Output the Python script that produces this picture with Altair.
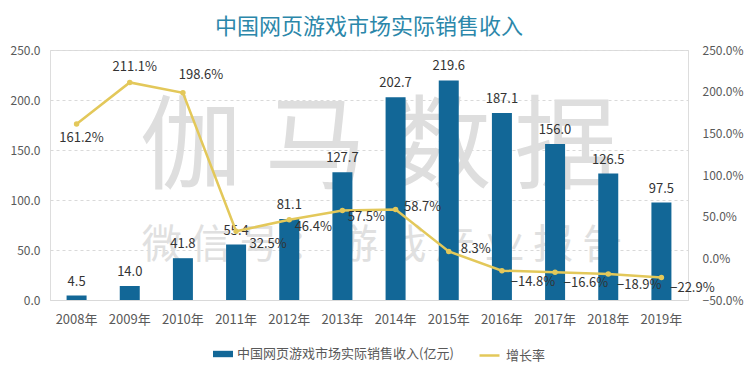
import altair as alt
import pandas as pd

years = ["2008年", "2009年", "2010年", "2011年", "2012年", "2013年",
         "2014年", "2015年", "2016年", "2017年", "2018年", "2019年"]
revenue = [4.5, 14.0, 41.8, 55.4, 81.1, 127.7, 202.7, 219.6, 187.1, 156.0, 126.5, 97.5]
growth = [161.2, 211.1, 198.6, 32.5, 46.4, 57.5, 58.7, 8.3, -14.8, -16.6, -18.9, -22.9]

bar_name = "中国网页游戏市场实际销售收入(亿元)"
line_name = "增长率"
title_text = "中国网页游戏市场实际销售收入"
wm_big = "伽 马 数 据"
wm_small = "微 信 号 ： 游 戏 产 业 报 告"

df = pd.DataFrame({"year": years, "revenue": revenue, "growth": growth,
                   "s1": bar_name, "s2": line_name})

FONT = "Noto Sans CJK SC"
BAR = "#126797"
LINE = "#e3c85a"
TXT = "#333333"
AX = "#595959"

x = alt.X("year:N", sort=years,
          scale=alt.Scale(paddingInner=0, paddingOuter=0),
          axis=alt.Axis(title=None, labelAngle=0, ticks=False, tickSize=0,
                        labelPadding=13, labelFontSize=13, labelColor=AX,
                        labelFont=FONT, domainColor="#d9d9d9", grid=False))

yl = alt.Y("revenue:Q", scale=alt.Scale(domain=[0, 250]),
           axis=alt.Axis(title=None, values=[0, 50, 100, 150, 200, 250],
                         format=".1f", ticks=False, tickSize=0, domain=False,
                         labelPadding=10, labelFontSize=12, labelColor=AX,
                         labelFont=FONT, grid=True, gridColor="#d9d9d9",
                         gridDash=[3, 3], orient="left"))

yr = alt.Y("growth:Q", scale=alt.Scale(domain=[-50, 250]),
           axis=alt.Axis(title=None, values=[-50, 0, 50, 100, 150, 200, 250],
                         labelExpr="format(datum.value, '.1f') + '%'",
                         ticks=False, tickSize=0, domain=False,
                         labelPadding=14, labelFontSize=12, labelColor=AX,
                         labelFont=FONT, grid=False, orient="right"))

base = alt.Chart(df)

wm_df = pd.DataFrame({"big": [wm_big], "small": [wm_small]})
wm1 = alt.Chart(wm_df).mark_text(font=FONT, fontSize=102, color="#dedede",
                                  align="center", baseline="middle").encode(
    x=alt.value(328), y=alt.value(100), text="big:N")
wm2 = alt.Chart(wm_df).mark_text(font=FONT, fontSize=40, color="#e0e0e0",
                                  align="center", baseline="middle").encode(
    x=alt.value(332), y=alt.value(196), text="small:N")

bars = base.mark_bar(size=20).encode(
    x=x, y=yl,
    color=alt.Color("s1:N", scale=alt.Scale(range=[BAR]),
                    legend=alt.Legend(title=None, orient="none", legendX=163,
                                      legendY=294, symbolType="M-1,-0.32H1V0.32H-1Z",
                                      symbolSize=400, symbolStrokeWidth=0,
                                      labelFont=FONT, labelFontSize=13,
                                      labelColor=AX, labelOffset=4, padding=0,
                                      labelLimit=0)))
bar_lab = base.mark_text(font=FONT, fontSize=13, color=TXT, baseline="middle",
                         dy=-14).encode(x=x, y=yl, text=alt.Text("revenue:Q", format=".1f"))

left = alt.layer(bars, bar_lab)

line = base.mark_line(strokeWidth=2.5, interpolate="linear").encode(
    x=x, y=yr,
    stroke=alt.Stroke("s2:N", scale=alt.Scale(range=[LINE]),
                      legend=alt.Legend(title=None, orient="none", legendX=428,
                                        legendY=294, symbolType="stroke",
                                        symbolSize=400, symbolStrokeWidth=2.5,
                                        labelFont=FONT, labelFontSize=13,
                                        labelColor=AX, labelOffset=5, padding=0,
                                        labelLimit=0)))
pts = base.mark_point(filled=True, size=30, color=LINE, opacity=1).encode(x=x, y=yr)


def glab(sel, dx, dy):
    return base.transform_filter(
        alt.FieldOneOfPredicate(field="year", oneOf=sel)
    ).transform_calculate(
        lab="format(datum.growth, '.1f') + '%'"
    ).mark_text(font=FONT, fontSize=13, color=TXT, baseline="middle",
                dx=dx, dy=dy).encode(x=x, y=yr, text="lab:N")


labs = [
    glab(["2008年"], 5, 14),
    glab(["2009年"], 5, -15),
    glab(["2010年"], 18, -18),
    glab(["2011年"], 32, 13),
    glab(["2012年", "2013年"], 24, 7),
    glab(["2014年", "2015年"], 27, -2),
    glab(["2016年", "2017年", "2018年", "2019年"], 31, 11),
]

right = alt.layer(line, pts, *labs)

chart = alt.layer(wm1, wm2, left, right).resolve_scale(
    y="independent", color="independent", stroke="independent"
).properties(
    width=638, height=250,
    title=alt.TitleParams(title_text, font=FONT, fontSize=22, color="#2b87aa",
                          fontWeight="normal", anchor="middle", offset=5),
    autosize=alt.AutoSizeParams(type="none"),
    padding={"left": 42, "top": 42, "right": 56, "bottom": 64},
).configure_view(stroke=None).configure(background="white")

chart.save("out.html", embed_options={"renderer": "svg", "actions": False})
